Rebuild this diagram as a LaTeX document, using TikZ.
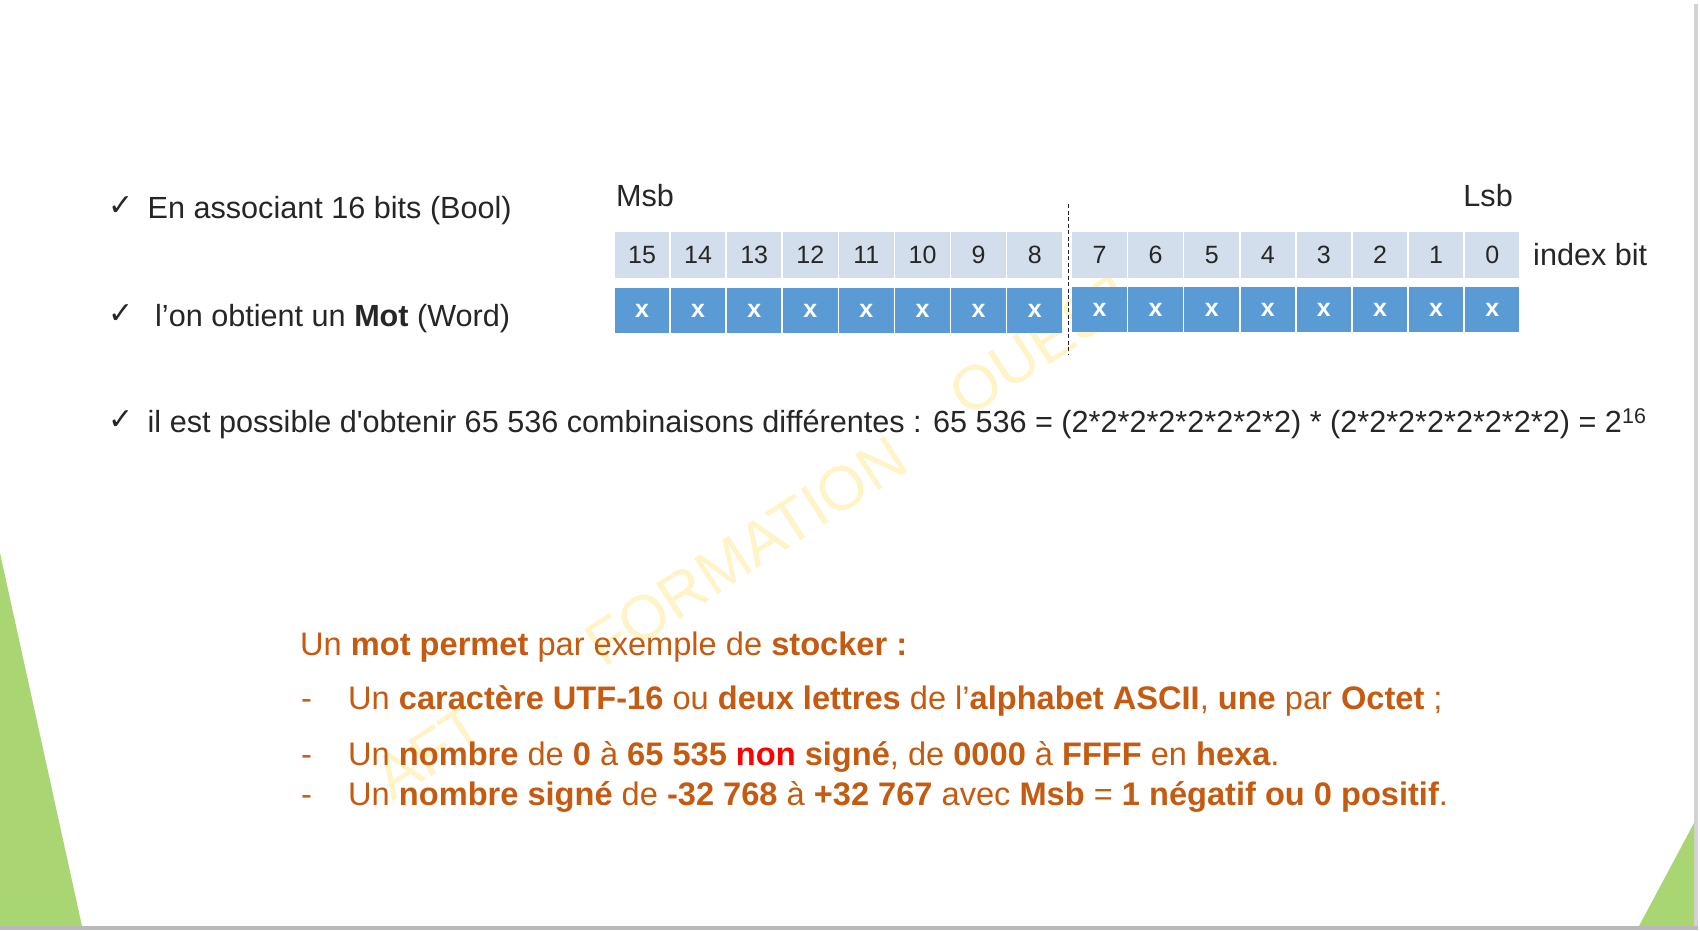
\documentclass[tikz,border=0pt]{standalone}
\usepackage{fontspec}
\setmainfont{Liberation Sans}
\newfontfamily\symbfont{DejaVu Sans}
\usetikzlibrary{positioning}
\definecolor{cellgray}{HTML}{D3DEEC}
\definecolor{cellblue}{HTML}{5B9BD5}
\definecolor{slidegreen}{HTML}{A9D672}
\definecolor{rust}{HTML}{C55A11}
\definecolor{wmark}{HTML}{FFF4C8}
\tikzset{
  idxcell/.style={fill=cellgray, minimum width=54.5pt, minimum height=45.5pt, inner sep=0pt,
    text=black!85, font=\fontsize{25}{25}\selectfont},
  valcell/.style={fill=cellblue, minimum width=54.5pt, minimum height=44.5pt, inner sep=0pt,
    text=white, font=\bfseries\fontsize{25}{25}\selectfont},
  body/.style={anchor=base west, inner sep=0pt, text=black!85, font=\fontsize{30.6}{30.6}\selectfont},
  tick/.style={inner sep=0pt, text=black!85, font=\symbfont\fontsize{30}{30}\selectfont},
  rusttext/.style={anchor=base west, inner sep=0pt, text=rust, font=\fontsize{32.6}{32.6}\selectfont},
  wmtext/.style={inner sep=0pt, text=wmark, rotate=33, font=\fontsize{62}{62}\selectfont}
}
\begin{document}
\begin{tikzpicture}[x=1pt,y=-1pt]
    \useasboundingbox (0,0) rectangle (1700,930);
    \fill[white] (0,0) rectangle (1700,930);
    % slide edge
    \fill[gray!35] (1694,4) rectangle (1698,930);
    \fill[gray!55] (0,926) rectangle (1698,930);
    \fill[slidegreen] (0,553) -- (82,926) -- (0,926) -- cycle;
    \fill[slidegreen] (1639,926) -- (1694,823) -- (1694,926) -- cycle;
    % watermark
    \node[wmtext] (wmA) at (430,752) {AFT};
    \node[wmtext] (wmB) at (746,551) {FORMATION};
    \node[wmtext] (wmC) at (1045,342) {OUEST};
    % left column
    \node[tick] (c1) at (121,206) {✓};
    \node[tick] (c2) at (121,314) {✓};
    \node[tick] (c3) at (121,420) {✓};
    \node[body] (t1) at (147.5,218) {En associant 16 bits (Bool)};
    \node[body] (t2) at (155,326) {l’on obtient un \textbf{Mot} (Word)};
    \node[body] (t3) at (147.5,432.5) {il est possible d\textquotesingle obtenir 65 536 combinaisons différentes : 65 536 = (2*2*2*2*2*2*2*2) * (2*2*2*2*2*2*2*2) = 2\textsuperscript{16}};
    % word cells
    \foreach \i in {0,...,7}
    {
        \pgfmathtruncatemacro\hb{15-\i}
        \pgfmathtruncatemacro\lb{7-\i}
        \node[idxcell] (idx\hb) at (642+56.1*\i,254.8) {\hb};
        \node[valcell] (val\hb) at (642+56.1*\i,310.7) {x};
        \node[idxcell] (idx\lb) at (1099.5+56.1*\i,254.8) {\lb};
        \node[valcell] (val\lb) at (1099.5+56.1*\i,309.7) {x};
    }
    \coordinate (dtop) at (1068,204);
    \coordinate (dbot) at (1068,355);
    \draw[black!85, line width=0.9pt, dash pattern=on 4pt off 2.5pt] (dtop) -- (dbot);
    \node[body] (msb) at (616,206) {Msb};
    \node[body, anchor=base east] (lsb) at (1513,206) {Lsb};
    \node[body] (ib) at (1533,265.5) {index bit};
    % orange block
    \node[rusttext] (r0) at (300,655) {Un \textbf{mot permet} par exemple de \textbf{stocker :}};
    \node[rusttext] (d1) at (301,709) {-};
    \node[rusttext] (r1) at (348,709) {Un \textbf{caractère UTF-16} ou \textbf{deux lettres} de l’\textbf{alphabet ASCII}, \textbf{une} par \textbf{Octet} ;};
    \node[rusttext] (d2) at (301,765.5) {-};
    \node[rusttext] (r2) at (348,765.5) {Un \textbf{nombre} de \textbf{0} à \textbf{65 535} \textcolor{red}{\textbf{non}} \textbf{signé}, de \textbf{0000} à \textbf{FFFF} en \textbf{hexa}.};
    \node[rusttext] (d3) at (301,805.5) {-};
    \node[rusttext] (r3) at (348,805.5) {Un \textbf{nombre signé} de \textbf{-32 768} à \textbf{+32 767} avec \textbf{Msb} = \textbf{1 négatif ou 0 positif}.};
\end{tikzpicture}
\end{document}
